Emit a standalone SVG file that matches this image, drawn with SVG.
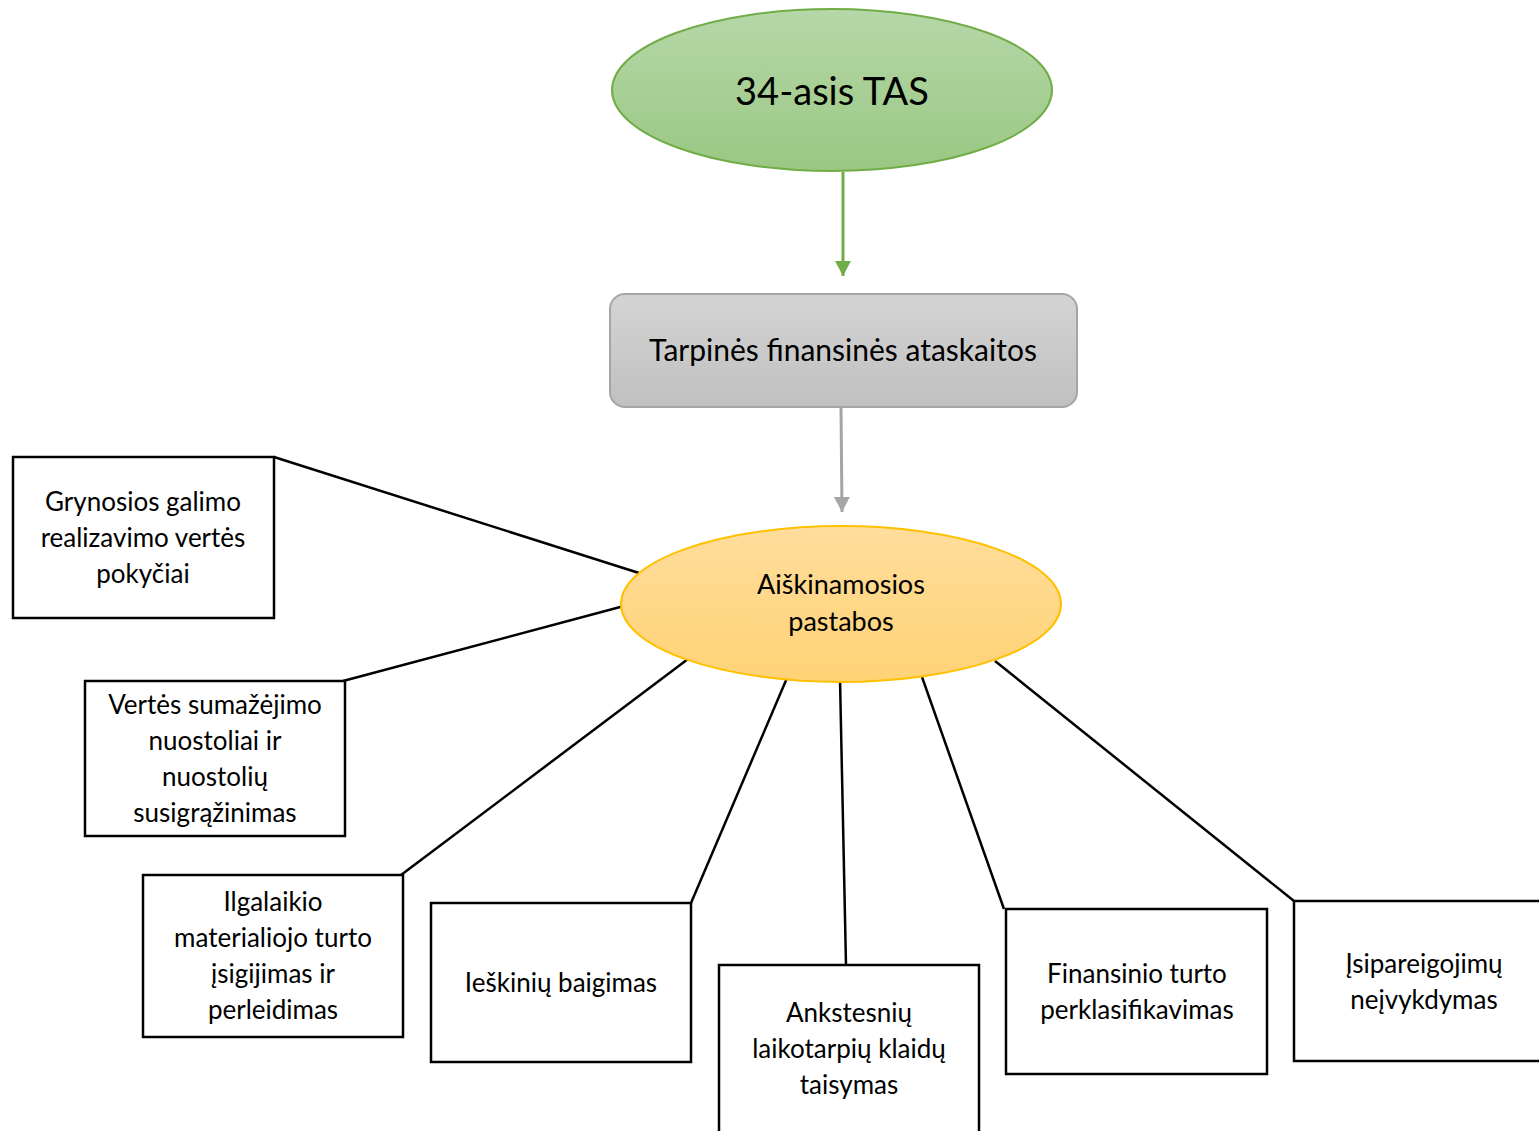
<svg xmlns="http://www.w3.org/2000/svg" width="1539" height="1131" viewBox="0 0 1539 1131">
<defs>
<linearGradient id="gGreen" x1="0" y1="0" x2="0" y2="1"><stop offset="0" stop-color="#b6d7a8"/><stop offset="1" stop-color="#9ac883"/></linearGradient>
<linearGradient id="gGrey" x1="0" y1="0" x2="0" y2="1"><stop offset="0" stop-color="#d4d4d4"/><stop offset="1" stop-color="#c0c0c0"/></linearGradient>
<linearGradient id="gGold" x1="0" y1="0" x2="0" y2="1"><stop offset="0" stop-color="#ffdd9c"/><stop offset="1" stop-color="#ffd275"/></linearGradient>
<marker id="arrGreen" markerWidth="16" markerHeight="16" refX="15" refY="8" orient="auto" markerUnits="userSpaceOnUse"><path d="M0,0 L15,8 L0,16 Z" fill="#70ad47"/></marker>
<marker id="arrGrey" markerWidth="16" markerHeight="16" refX="15" refY="8" orient="auto" markerUnits="userSpaceOnUse"><path d="M0,0 L15,8 L0,16 Z" fill="#a5a5a5"/></marker>
<style>
text{font-family:Lato,"Open Sans","Liberation Sans",sans-serif;fill:#000;text-anchor:middle}
.box{fill:#fff;stroke:#000;stroke-width:2.5}
.t{font-size:26px}
.link{stroke:#000;stroke-width:2.5;fill:none}
</style>
</defs>
<g id="connectors">
<line x1="843" y1="172" x2="843" y2="276" stroke="#70ad47" stroke-width="3" marker-end="url(#arrGreen)"/>
<line x1="841" y1="407" x2="842" y2="512" stroke="#a5a5a5" stroke-width="3" marker-end="url(#arrGrey)"/>
<line class="link" x1="274" y1="457" x2="639" y2="573"/>
<line class="link" x1="343" y1="681" x2="624" y2="606"/>
<line class="link" x1="401" y1="875" x2="688" y2="659"/>
<line class="link" x1="691" y1="903" x2="787" y2="678"/>
<line class="link" x1="846" y1="965" x2="840" y2="679"/>
<line class="link" x1="1004" y1="909" x2="922" y2="677"/>
<line class="link" x1="1294" y1="901" x2="995" y2="661"/>
</g>
<g id="node-tas">
<ellipse cx="832" cy="90" rx="220" ry="81" fill="url(#gGreen)" stroke="#70ad47" stroke-width="2"/>
<text x="832" y="105" font-size="38">34-asis TAS</text>
</g>
<g id="node-tarpines">
<rect x="610" y="294" width="467" height="113" rx="15" fill="url(#gGrey)" stroke="#a5a5a5" stroke-width="2"/>
<text x="843" y="361" font-size="30">Tarpinės finansinės ataskaitos</text>
</g>
<g id="node-aiskinamosios">
<ellipse cx="841" cy="604" rx="220" ry="78" fill="url(#gGold)" stroke="#ffc000" stroke-width="2"/>
<text x="841" y="594" font-size="27">Aiškinamosios</text>
<text x="841" y="631" font-size="27">pastabos</text>
</g>
<g id="node-grynosios">
<rect class="box" x="13" y="457" width="261" height="161"/>
<text class="t" x="143" y="511">Grynosios galimo</text>
<text class="t" x="143" y="547">realizavimo vertės</text>
<text class="t" x="143" y="583">pokyčiai</text>
</g>
<g id="node-vertes">
<rect class="box" x="85" y="681" width="260" height="155"/>
<text class="t" x="215" y="714">Vertės sumažėjimo</text>
<text class="t" x="215" y="750">nuostoliai ir</text>
<text class="t" x="215" y="786">nuostolių</text>
<text class="t" x="215" y="822">susigrąžinimas</text>
</g>
<g id="node-ilgalaikio">
<rect class="box" x="143" y="875" width="260" height="162"/>
<text class="t" x="273" y="911">Ilgalaikio</text>
<text class="t" x="273" y="947">materialiojo turto</text>
<text class="t" x="273" y="983">įsigijimas ir</text>
<text class="t" x="273" y="1019">perleidimas</text>
</g>
<g id="node-ieskiniu">
<rect class="box" x="431" y="903" width="260" height="159"/>
<text class="t" x="561" y="992">Ieškinių baigimas</text>
</g>
<g id="node-ankstesniu">
<rect class="box" x="719" y="965" width="260" height="175"/>
<text class="t" x="849" y="1022">Ankstesnių</text>
<text class="t" x="849" y="1058">laikotarpių klaidų</text>
<text class="t" x="849" y="1094">taisymas</text>
</g>
<g id="node-finansinio">
<rect class="box" x="1006" y="909" width="261" height="165"/>
<text class="t" x="1137" y="983">Finansinio turto</text>
<text class="t" x="1137" y="1019">perklasifikavimas</text>
</g>
<g id="node-isipareigojimu">
<rect class="box" x="1294" y="901" width="260" height="160"/>
<text class="t" x="1424" y="973">Įsipareigojimų</text>
<text class="t" x="1424" y="1009">neįvykdymas</text>
</g>
</svg>
